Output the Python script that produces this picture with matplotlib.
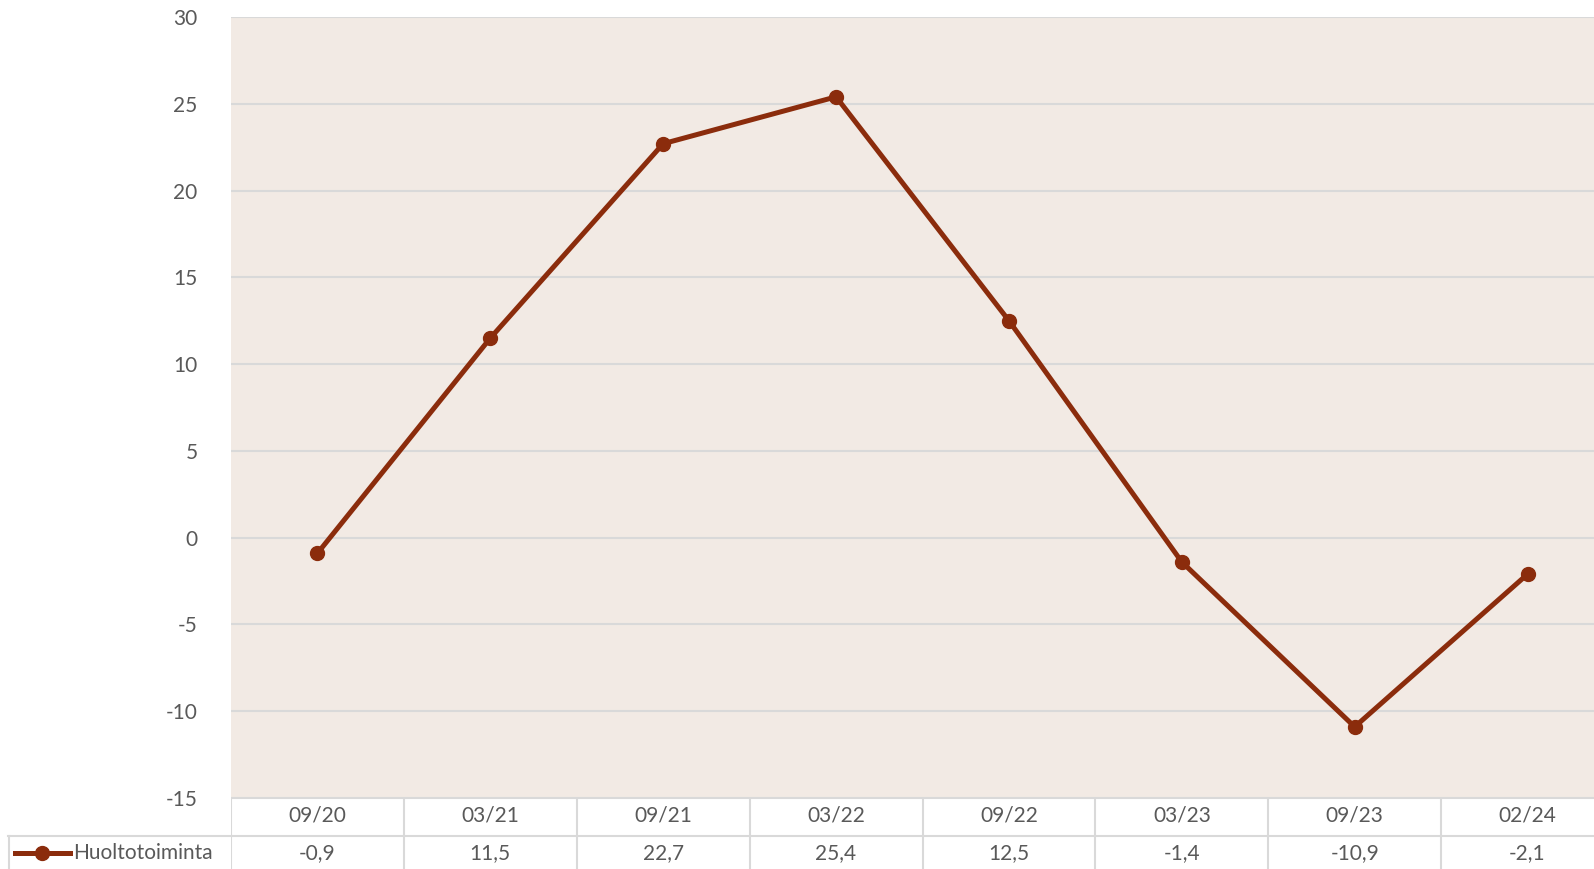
import matplotlib
matplotlib.use("Agg")
import matplotlib.pyplot as plt
from matplotlib.lines import Line2D

categories = ["09/20", "03/21", "09/21", "03/22", "09/22", "03/23", "09/23", "02/24"]
values = [-0.9, 11.5, 22.7, 25.4, 12.5, -1.4, -10.9, -2.1]
value_labels = ["-0,9", "11,5", "22,7", "25,4", "12,5", "-1,4", "-10,9", "-2,1"]
series_name = "Huoltotoiminta"
yticks = [-15, -10, -5, 0, 5, 10, 15, 20, 25, 30]

W, H = 1594, 869
DPI = 100
plt.rcParams['font.family'] = ['Lato', 'DejaVu Sans']

line_color = "#8B2C0C"
bg_color = "#F2EAE4"
grid_color = "#D9D9D9"
text_color = "#595959"
fs = 15

fig = plt.figure(figsize=(W / DPI, H / DPI), dpi=DPI)

def fx(px):
    return px / W

def fy(py):
    return 1 - py / H

left_px, right_px, top_px, bottom_px = 231, 1614, 17, 798
ax = fig.add_axes([fx(left_px), fy(bottom_px), fx(right_px) - fx(left_px), fy(top_px) - fy(bottom_px)])
ax.set_facecolor(bg_color)
n = len(categories)
x = list(range(n))
ax.plot(x, values, color=line_color, lw=3.6, marker="o", ms=10, zorder=3, solid_joinstyle="round")
ax.set_xlim(-0.5, n - 0.5)
ax.set_ylim(yticks[0], yticks[-1])
ax.set_yticks(yticks)
ax.set_yticklabels([str(t) for t in yticks], fontsize=fs, color=text_color)
ax.tick_params(axis="y", length=0, pad=24)
ax.set_xticks([])
for s in ax.spines.values():
    s.set_visible(False)
for t in yticks:
    ax.axhline(t, color=grid_color, lw=1.5, zorder=1)

# data table
tab_top = bottom_px
ax_t = fig.add_axes([fx(left_px), 0, fx(right_px) - fx(left_px), fy(tab_top)], sharex=ax)
ax_t.set_xlim(-0.5, n - 0.5)
h_tab = H - tab_top
ax_t.set_ylim(0, h_tab)
ax_t.axis("off")
row_split = H - 836
ax_t.axhline(h_tab, color=grid_color, lw=1.5)
ax_t.axhline(row_split, color=grid_color, lw=1.5)
for k in range(n + 1):
    ax_t.axvline(k - 0.5, color=grid_color, lw=1.5)
for i in range(n):
    ax_t.text(i, H - 816, categories[i], ha="center", va="center", fontsize=fs, color=text_color)
    ax_t.text(i, H - 853, value_labels[i], ha="center", va="center", fontsize=fs, color=text_color)

# legend cell
fig.add_artist(Line2D([fx(8), fx(left_px)], [fy(836), fy(836)], color=grid_color, lw=1.5))
fig.add_artist(Line2D([fx(9), fx(9)], [fy(836), 0], color=grid_color, lw=1.5))
fig.add_artist(Line2D([fx(15), fx(70)], [fy(853), fy(853)], color=line_color, lw=3.6))
fig.add_artist(Line2D([fx(42)], [fy(853)], color=line_color, marker="o", ms=10, lw=0))
fig.text(fx(73), fy(853), series_name, ha="left", va="center", fontsize=fs, color=text_color)

fig.savefig("out.png", dpi=DPI, facecolor="white")
